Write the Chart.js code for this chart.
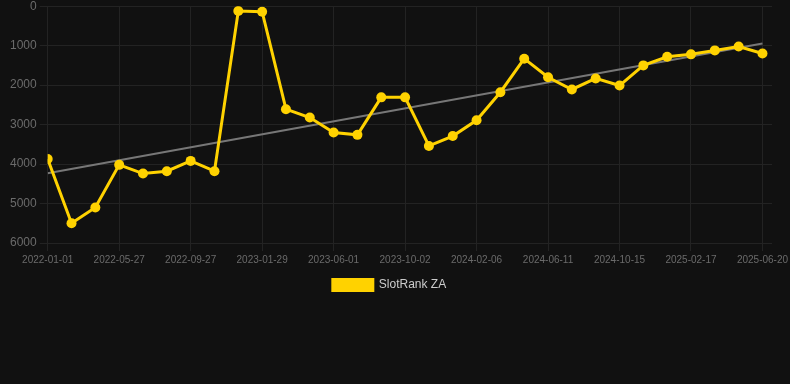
<!DOCTYPE html>
<html>
<head>
<meta charset="utf-8">
<script src="https://cdn.jsdelivr.net/npm/chart.js@4/dist/chart.umd.min.js"></script>
<style>
  html, body { margin: 0; padding: 0; background: #111111; overflow: hidden; }
  #wrap { width: 790px; height: 305px; margin-top: -4px; }
</style>
</head>
<body>
<div id="wrap"><canvas id="chart"></canvas></div>
<script>
// Dates on the x axis (one per point)
const dates = [
  '2022-01-01', '2022-02-18', '2022-04-08', '2022-05-27', '2022-07-07', '2022-08-17',
  '2022-09-27', '2022-11-07', '2022-12-18', '2023-01-29', '2023-03-12', '2023-04-21',
  '2023-06-01', '2023-07-12', '2023-08-22', '2023-10-02', '2023-11-12', '2023-12-26',
  '2024-02-06', '2024-03-18', '2024-04-30', '2024-06-11', '2024-07-22', '2024-09-03',
  '2024-10-15', '2024-11-25', '2025-01-06', '2025-02-17', '2025-03-30', '2025-05-10',
  '2025-06-20'
];

// SlotRank values
const rankValues = [
  3870, 5500, 5100, 4020, 4240, 4180, 3920, 4180, 120, 140,
  2610, 2820, 3200, 3260, 2310, 2310, 3540, 3290, 2890, 2180,
  1330, 1800, 2110, 1830, 2010, 1500, 1280, 1220, 1120, 1020,
  1200
];

// Trend line end points (first and last date)
const trendValues = [4230, 945];

// Y axis ticks
const yMin = 0;
const yMax = 6000;
const yStep = 1000;

// x axis: label every 3rd date, axis runs a bit past the last point
const labelEvery = 3;
const xMax = 30.4;

const rankPoints = rankValues.map((v, i) => ({ x: i, y: v }));
const trendPoints = [
  { x: 0, y: trendValues[0] },
  { x: dates.length - 1, y: trendValues[1] },
];

const tickColor = '#6b6b6b';
const gridColor = '#232323';

const ctx = document.getElementById('chart').getContext('2d');
const chart = new Chart(ctx, {
  type: 'line',
  data: {
    datasets: [
      {
        label: 'SlotRank ZA',
        data: rankPoints,
        borderColor: '#ffd200',
        backgroundColor: '#ffd200',
        borderWidth: 3,
        pointRadius: 5,
        pointHoverRadius: 5,
        pointBackgroundColor: '#ffd200',
        pointBorderWidth: 0,
        tension: 0,
        order: 1,
      },
      {
        label: 'Trend',
        data: trendPoints,
        borderColor: '#777777',
        borderWidth: 2,
        pointRadius: 0,
        tension: 0,
        order: 2,
      },
    ],
  },
  options: {
    responsive: true,
    maintainAspectRatio: false,
    animation: false,
    layout: {
      padding: { left: 7, right: 18, top: 0, bottom: 0 },
    },
    scales: {
      x: {
        type: 'linear',
        min: 0,
        max: xMax,
        grid: {
          color: (c) => (c.tick && c.tick.value === xMax) ? 'rgba(0,0,0,0)' : gridColor,
        },
        border: { display: false },
        afterBuildTicks: (scale) => {
          const ticks = [];
          for (let i = 0; i < dates.length; i += labelEvery) ticks.push({ value: i });
          ticks.push({ value: xMax });
          scale.ticks = ticks;
        },
        ticks: {
          autoSkip: false,
          maxRotation: 0,
          color: tickColor,
          font: { family: 'Arial', size: 10 },
          callback: (v) => (Number.isInteger(v) && dates[v]) ? dates[v] : '',
        },
      },
      y: {
        reverse: true,
        min: yMin,
        max: yMax,
        grid: { color: gridColor },
        border: { display: false },
        ticks: {
          stepSize: yStep,
          color: tickColor,
          font: { family: 'Arial', size: 12 },
          callback: (v) => String(v),
        },
      },
    },
    plugins: {
      legend: {
        position: 'bottom',
        labels: {
          boxWidth: 40,
          boxHeight: 11,
          color: '#cccccc',
          font: { family: 'Arial', size: 12 },
          filter: (item) => item.datasetIndex === 0,
        },
      },
      tooltip: { enabled: false },
    },
  },
});
</script>
</body>
</html>
